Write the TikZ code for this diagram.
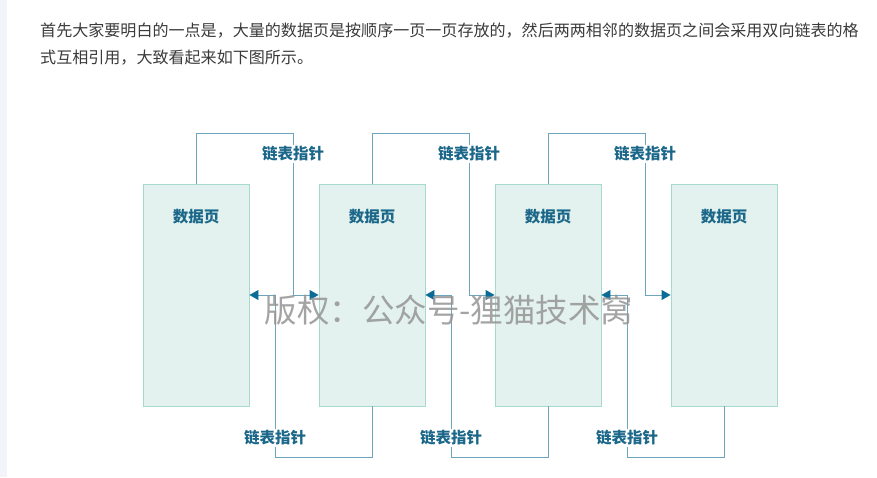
\documentclass[tikz,border=0pt]{standalone}
\usepackage{fontspec}
\newfontfamily\cjk{Noto Sans CJK SC}
\usetikzlibrary{arrows.meta, positioning}

\definecolor{pagefill}{HTML}{E3F2EE}
\definecolor{pageline}{HTML}{A6DACD}
\definecolor{linkcol}{HTML}{6EA5BE}
\definecolor{tipcol}{HTML}{0B6B97}
\definecolor{ptrtext}{HTML}{1B678A}
\definecolor{bodytext}{HTML}{3A3A3A}
\definecolor{sidebar}{HTML}{F3F4F9}

\begin{document}
\begin{tikzpicture}[x=1pt, y=-1pt, node distance=176pt,
    page/.style={rectangle, draw=pageline, fill=pagefill, line width=0.9pt, minimum width=106pt, minimum height=222pt, inner sep=0pt},
    ptr/.style={fill=white, text=ptrtext, inner sep=2pt, font=\cjk\bfseries\fontsize{15.5}{15.5}\selectfont},
    title/.style={text=ptrtext, inner sep=0pt, font=\cjk\bfseries\fontsize{15.5}{15.5}\selectfont},
    link/.style={draw=linkcol, line width=0.9pt, -{Triangle[length=9pt, width=10pt, color=tipcol]}}]

    \useasboundingbox (0,0) rectangle (877,477);
    \fill[sidebar] (0,0) rectangle (7,477);

    \node [anchor=north west, align=left, inner sep=0pt, text=bodytext,
           font=\cjk\fontsize{16.05}{27}\selectfont] (intro) at (40,22.5)
          {首先大家要明白的一点是，大量的数据页是按顺序一页一页存放的，然后两两相邻的数据页之间会采用双向链表的格\\式互相引用，大致看起来如下图所示。};

    \node [page] (page1) at (196,295) {};
    \node [page, right of=page1] (page2) {};
    \node [page, right of=page2] (page3) {};
    \node [page, right of=page3] (page4) {};

    \node [title] (title1) at ([yshift=-33pt]page1.north) {数据页};
    \node [title] (title2) at ([yshift=-33pt]page2.north) {数据页};
    \node [title] (title3) at ([yshift=-33pt]page3.north) {数据页};
    \node [title] (title4) at ([yshift=-33pt]page4.north) {数据页};

    \coordinate (next1) at (293,133);
    \coordinate (next2) at (469,133);
    \coordinate (next3) at (645,133);
    \coordinate (prev1) at (275,457);
    \coordinate (prev2) at (451,457);
    \coordinate (prev3) at (627,457);

    \path [link] (page1.north) |- (next1) |- (page2.west);
    \path [link] (page2.north) |- (next2) |- (page3.west);
    \path [link] (page3.north) |- (next3) |- (page4.west);
    \path [link] (page2.south) |- (prev1) |- (page1.east);
    \path [link] (page3.south) |- (prev2) |- (page2.east);
    \path [link] (page4.south) |- (prev3) |- (page3.east);

    \node [ptr] (ptr1) at (293,154) {链表指针};
    \node [ptr] (ptr2) at (469,154) {链表指针};
    \node [ptr] (ptr3) at (645,154) {链表指针};
    \node [ptr] (ptr4) at (275,438) {链表指针};
    \node [ptr] (ptr5) at (451,438) {链表指针};
    \node [ptr] (ptr6) at (627,438) {链表指针};

    \node [text=black!42, opacity=0.85, inner sep=0pt, font=\cjk\fontsize{32.5}{32.5}\selectfont] (mark) at (449,310) {版权：公众号-狸猫技术窝};
\end{tikzpicture}
\end{document}
